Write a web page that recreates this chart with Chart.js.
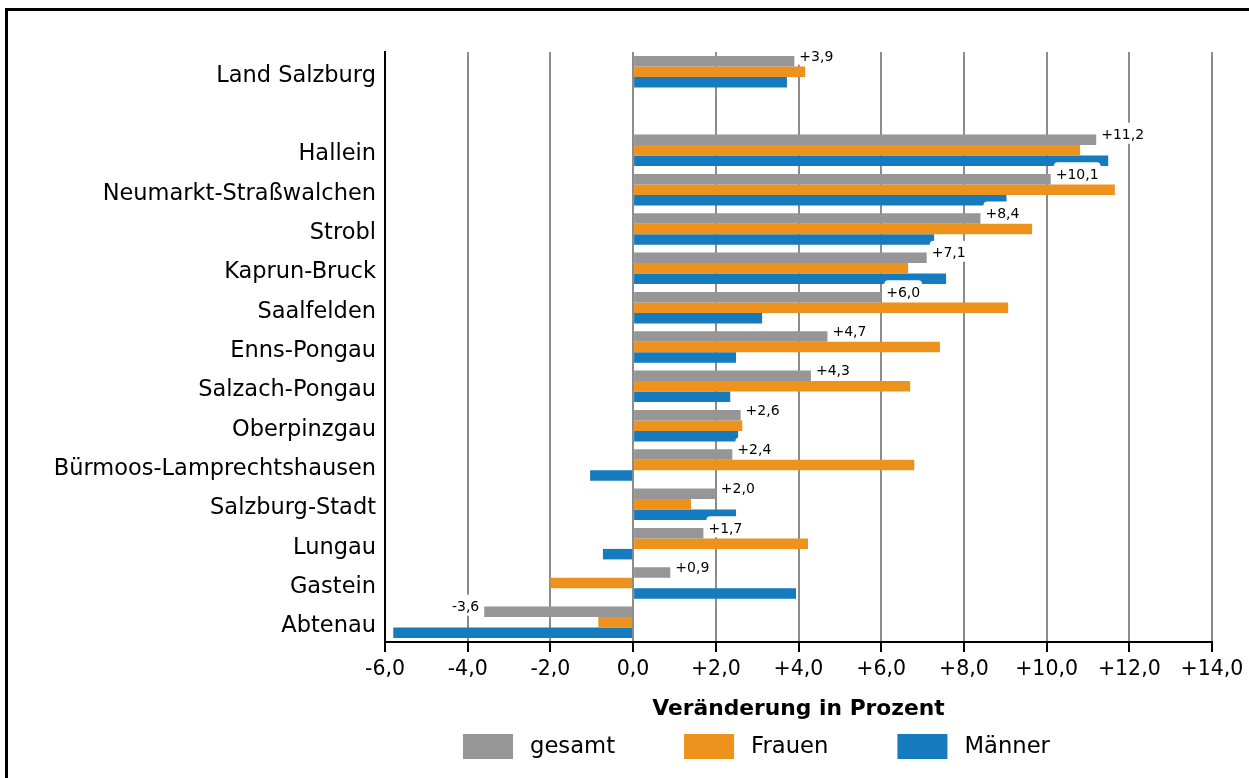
<!DOCTYPE html>
<html lang="de">
  <head>
    <meta charset="utf-8" />
    <script src="https://cdn.jsdelivr.net/npm/chart.js@4.4.0/dist/chart.umd.min.js"></script>
    <title>Veränderung in Prozent</title>
    <style>
      body { margin: 0; background: #fff; }
      #rahmen { position: absolute; left: 5px; top: 8px; width: 1300px; height: 800px; border: 3px solid #000; box-sizing: border-box; }
      #box { position: absolute; left: 0; top: 0; width: 1249px; height: 778px; }
    </style>
  </head>
  <body>
    <div id="rahmen"></div>
    <div id="box"><canvas id="chart" width="1249" height="778"></canvas></div>
    <script>
      const regionen = ['Land Salzburg', '', 'Hallein', 'Neumarkt-Straßwalchen', 'Strobl', 'Kaprun-Bruck',
        'Saalfelden', 'Enns-Pongau', 'Salzach-Pongau', 'Oberpinzgau', 'Bürmoos-Lamprechtshausen',
        'Salzburg-Stadt', 'Lungau', 'Gastein', 'Abtenau'];
      const gesamt  = [3.9, null, 11.2, 10.1, 8.4, 7.1, 6.0, 4.7, 4.3, 2.6, 2.4, 2.0, 1.7, 0.9, -3.6];
      const frauen  = [4.16, null, 10.81, 11.65, 9.65, 6.65, 9.07, 7.42, 6.70, 2.64, 6.80, 1.40, 4.23, -2.0, -0.84];
      const maenner = [3.72, null, 11.49, 9.03, 7.28, 7.57, 3.12, 2.49, 2.35, 2.54, -1.04, 2.49, -0.73, 3.94, -5.8];
      const xMin = -6, xMax = 14, xStep = 2;

      const schrift = 'DejaVu Sans';

      function zahl(v) {
        const s = Math.abs(v).toFixed(1).replace('.', ',');
        if (v > 0) return '+' + s;
        if (v < 0) return '-' + s;
        return s;
      }

      // Werte an den grauen Balken (gesamt)
      const wertLabels = {
        id: 'wertLabels',
        afterDatasetsDraw(chart) {
          const ctx = chart.ctx;
          const meta = chart.getDatasetMeta(0);
          ctx.save();
          ctx.font = '14px "' + schrift + '"';
          ctx.textBaseline = 'middle';
          meta.data.forEach((bar, i) => {
            const v = gesamt[i];
            if (v === null) return;
            const txt = zahl(v);
            const w = ctx.measureText(txt).width;
            const ty = bar.y - 4;
            let tx;
            if (v >= 0) { tx = bar.x + 5; ctx.textAlign = 'left'; }
            else { tx = bar.x - 5; ctx.textAlign = 'right'; }
            const bx = v >= 0 ? tx - 2 : tx - w - 2;
            ctx.fillStyle = '#fff';
            ctx.beginPath();
            ctx.roundRect(bx, ty - 13, w + 4, 21, 4);
            ctx.fill();
            ctx.fillStyle = '#000';
            ctx.fillText(txt, tx, ty);
          });
          ctx.restore();
        }
      };

      // Legende unten
      const legende = {
        id: 'legende',
        afterDraw(chart) {
          const ctx = chart.ctx;
          ctx.save();
          ctx.font = '22.7px "' + schrift + '"';
          ctx.textBaseline = 'middle';
          ctx.textAlign = 'left';
          let x = 463;
          chart.data.datasets.forEach(ds => {
            ctx.fillStyle = ds.backgroundColor;
            ctx.fillRect(x, 734, 50, 25);
            ctx.fillStyle = '#000';
            ctx.fillText(ds.label, x + 67, 747);
            x += 67 + ctx.measureText(ds.label).width + 69;
          });
          ctx.restore();
        }
      };

      const ctx = document.getElementById('chart').getContext('2d');
      new Chart(ctx, {
        type: 'bar',
        data: {
          labels: regionen,
          datasets: [
            { label: 'gesamt', data: gesamt, backgroundColor: 'rgb(150, 150, 150)' },
            { label: 'Frauen', data: frauen, backgroundColor: 'rgb(236, 146, 29)' },
            { label: 'Männer', data: maenner, backgroundColor: 'rgb(22, 122, 190)' }
          ]
        },
        options: {
          indexAxis: 'y',
          responsive: false,
          animation: false,
          categoryPercentage: 0.8,
          barPercentage: 1.0,
          layout: { padding: { left: 10, right: 37, top: 52, bottom: 56 } },
          plugins: { legend: { display: false }, tooltip: { enabled: false } },
          scales: {
            y: {
              afterFit: scale => { scale.width = 375; },
              ticks: { color: '#000', padding: 9, labelOffset: 4, font: { family: schrift, size: 22.5 } },
              grid: { drawOnChartArea: false, drawTicks: false },
              border: { color: '#000', width: 2 }
            },
            x: {
              min: xMin,
              max: xMax,
              afterFit: scale => { scale.height = 80; },
              ticks: {
                stepSize: xStep,
                color: '#000',
                padding: 5,
                font: { family: schrift, size: 20.5 },
                callback: v => zahl(v)
              },
              grid: { color: '#8c8c8c', lineWidth: 2, tickLength: 10, tickColor: '#000' },
              border: { color: '#000', width: 2 },
              title: {
                display: true,
                text: 'Veränderung in Prozent',
                color: '#000',
                padding: 0,
                font: { family: schrift, size: 21.8, weight: 'bold' }
              }
            }
          }
        },
        plugins: [wertLabels, legende]
      });
    </script>
  </body>
</html>
